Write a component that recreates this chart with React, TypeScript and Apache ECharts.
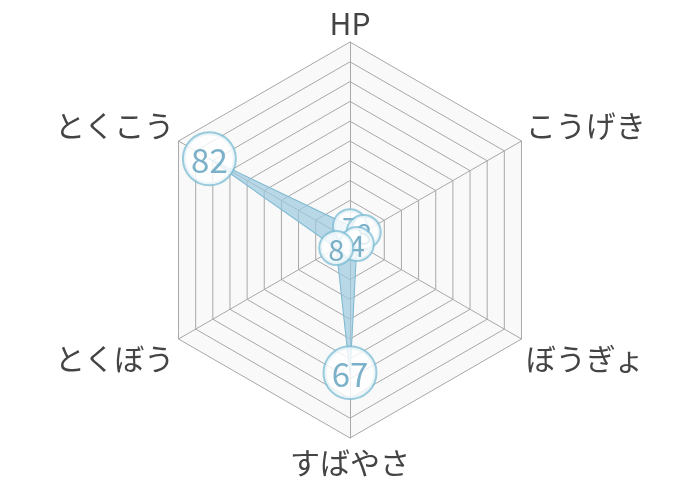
import { useRef, useEffect } from "react"
import * as echarts from "echarts"

// stats in clockwise order starting at the top
const statNames = ["HP", "こうげき", "ぼうぎょ", "すばやさ", "とくぼう", "とくこう"]
const statValues = [7, 8, 4, 67, 8, 82]
const statMax = 100

// names whose label sits a little above / below its vertex
const upperSideNames = ["こうげき", "とくこう"]
const lowerSideNames = ["ぼうぎょ", "とくぼう"]
const bottomNames = ["すばやさ"]

const FONT = "'Noto Sans CJK JP', 'Noto Sans', sans-serif"

export default function App() {
  const chartRef = useRef<HTMLDivElement>(null)

  useEffect(() => {
    if (!chartRef.current) return
    const chart = echarts.init(chartRef.current, undefined, { renderer: "svg" })

    // echarts radar runs counter-clockwise, so reverse everything after the first item
    const order = [0, ...statNames.map((_, i) => i).slice(1).reverse()]
    const radarNames = order.map((i) => statNames[i])
    const radarValues = order.map((i) => statValues[i])

    const circle = (size: number, fontSize: number) => ({
      width: size,
      height: size,
      lineHeight: size,
      align: "center",
      verticalAlign: "middle",
      fontSize,
      fontFamily: FONT,
      color: "#5a9dbb",
      backgroundColor: "#fff",
      borderColor: "#82bfd6",
      borderWidth: 2,
      borderRadius: size,
    })

    const nameStyle = { color: "#444", fontSize: 30, fontFamily: FONT }

    chart.setOption({
      animation: false,
      radar: {
        center: ["50%", "50%"],
        radius: 198,
        startAngle: 90,
        shape: "polygon",
        splitNumber: 10,
        indicator: radarNames.map((name) => ({ name, max: statMax })),
        nameGap: 5,
        axisName: {
          ...nameStyle,
          formatter: (name: string) => {
            if (upperSideNames.includes(name)) return `{up|${name}}`
            if (lowerSideNames.includes(name)) return `{down|${name}}`
            if (bottomNames.includes(name)) return `{bottom|${name}}`
            return `{n|${name}}`
          },
          rich: {
            n: nameStyle,
            up: { ...nameStyle, padding: [0, 0, 30, 0] },
            down: { ...nameStyle, padding: [30, 0, 0, 0] },
            bottom: { ...nameStyle, padding: [3, 0, 0, 0] },
          },
        },
        splitLine: { lineStyle: { color: "#a8a8a8", width: 1 } },
        splitArea: { show: true, areaStyle: { color: ["#f9f9f9"] } },
        axisLine: { lineStyle: { color: "#a8a8a8", width: 1 } },
      },
      polar: { center: ["50%", "50%"], radius: 198 },
      angleAxis: {
        type: "value",
        min: 0,
        max: 360,
        startAngle: 90,
        clockwise: true,
        show: false,
      },
      radiusAxis: { type: "value", min: 0, max: statMax, show: false },
      series: [
        {
          type: "radar",
          symbol: "none",
          lineStyle: { color: "#78b5ce", width: 1.2 },
          areaStyle: { color: "#9ccbdf", opacity: 0.7 },
          data: [{ value: radarValues, name: "stats" }],
        },
        {
          type: "scatter",
          coordinateSystem: "polar",
          z: 5,
          symbol: "circle",
          symbolSize: 1,
          itemStyle: { color: "rgba(0,0,0,0)" },
          label: {
            show: true,
            position: "inside",
            formatter: (p: any) =>
              p.value[0] >= 10 ? `{b|${p.value[0]}}` : `{s|${p.value[0]}}`,
            rich: {
              b: circle(51, 33),
              s: circle(32, 29),
            },
          },
          data: statValues.map((v, i) => [v, (i * 360) / statNames.length]),
        },
      ],
    })

    return () => chart.dispose()
  }, [])

  return (
    <div
      ref={chartRef}
      style={{ position: "fixed", left: 0, top: 0, width: 700, height: 480 }}
    />
  )
}
